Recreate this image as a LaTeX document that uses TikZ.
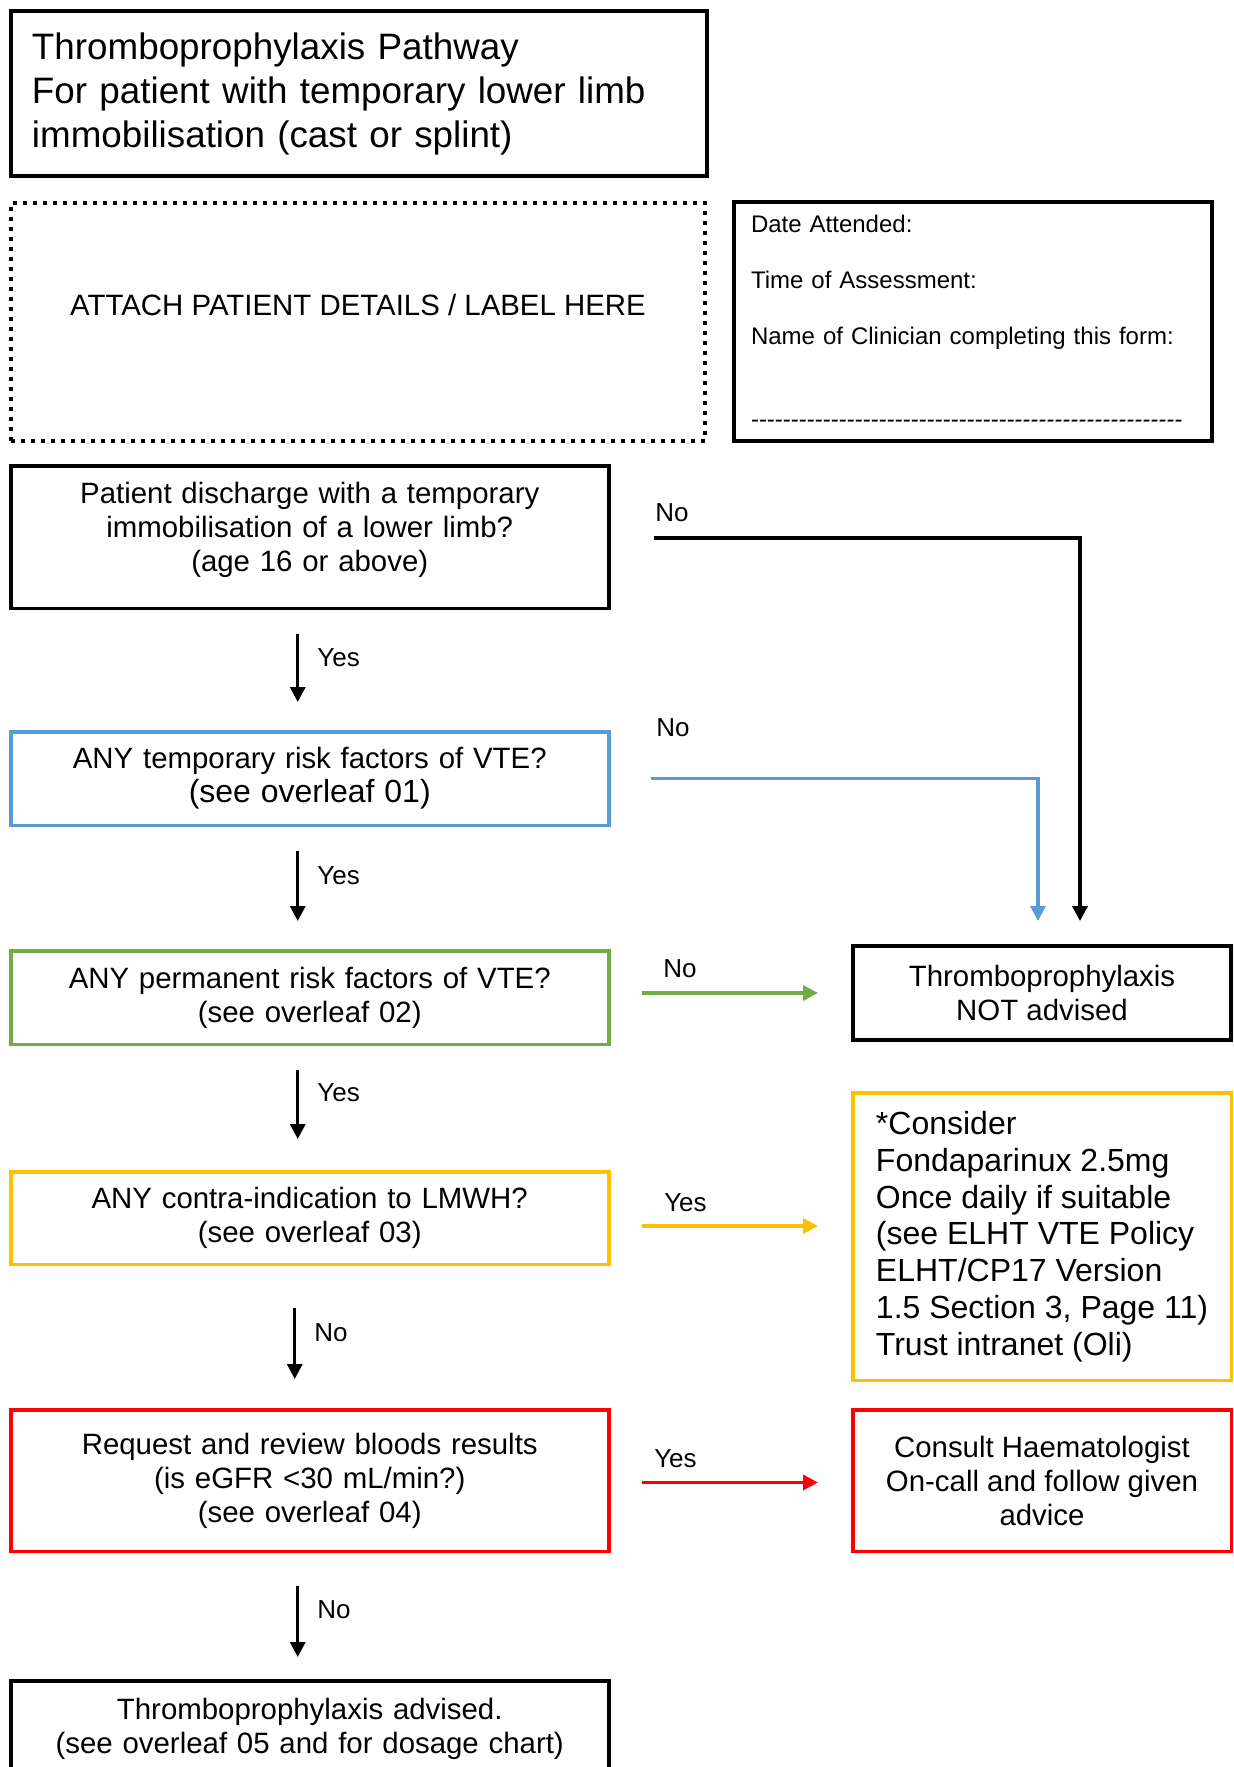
\documentclass[tikz,border=0pt]{standalone}
\usepackage{fontspec}
\setmainfont{Liberation Sans}
\usepackage{tikz}
\usetikzlibrary{arrows.meta, positioning, calc}
\usepackage{xcolor}

\definecolor{riskblue}{HTML}{5B9BD5}
\definecolor{riskgreen}{HTML}{70AD47}
\definecolor{riskyellow}{HTML}{FFC000}
\definecolor{riskred}{HTML}{FF0000}
\newcommand{\dashrow}{\foreach \k in {1,...,54}{-\kern0pt}}

\begin{document}
\begin{tikzpicture}[
  x=0.5pt, y=-0.5pt,
  >={Triangle[width=7.5pt,length=7.5pt]},
  font=\fontsize{14.7}{17}\selectfont,
  box/.style={draw, line width=1.75pt, inner sep=4pt, align=center},
  pathbox/.style={box, text width=285pt, minimum width=299pt},
  sidebox/.style={box, anchor=north west, minimum width=189.25pt},
  form/.style={draw, line width=2pt, anchor=north west},
  flow/.style={->, line width=1.6pt, shorten <=12pt, shorten >=14pt},
  sidearrow/.style={->, line width=1.75pt, shorten >=16.5pt},
  steplabel/.style={right=9pt, inner sep=0pt, font=\fontsize{13}{15}\selectfont},
  sidelabel/.style={anchor=south west, inner sep=0pt, text=black, font=\fontsize{13}{15}\selectfont}
]
\useasboundingbox (0,0) rectangle (1234,1767);
\fill[white] (0,0) rectangle (1234,1767);

% HEADER
\node[form, text width=327pt, align=left, inner xsep=10.5pt, minimum height=82.5pt,
  font=\fontsize{18.4}{22}\selectfont] (title) at (9,9)
  {Thromboprophylaxis Pathway\\For patient with temporary lower limb\\immobilisation (cast or splint)};
\node[form, dash pattern=on 2pt off 3pt, minimum width=347pt, minimum height=119pt,
  text depth=17pt] (attach) at (9,201) {ATTACH PATIENT DETAILS / LABEL HERE};
\node[form, text width=222pt, align=left, inner xsep=8.5pt, minimum height=119.5pt,
  font=\fontsize{12}{14}\selectfont] (details) at (732,200)
  {Date Attended:\\[14pt]Time of Assessment:\\[14pt]Name of Clinician completing this form:\\[27.5pt]\dashrow};

% PATHWAY
\node[pathbox, anchor=north west, minimum height=71.25pt, text depth=44pt] (discharge) at (9,464)
  {Patient discharge with a temporary\\immobilisation of a lower limb?\\(age 16 or above)};
\node[pathbox, draw=riskblue, below=60pt of discharge, minimum height=46.75pt] (temprisk)
  {ANY temporary risk factors of VTE?\\{\fontsize{16}{17}\selectfont (see overleaf 01)}};
\node[pathbox, draw=riskgreen, below=61pt of temprisk, minimum height=46.75pt] (permrisk)
  {ANY permanent risk factors of VTE?\\(see overleaf 02)};
\node[pathbox, draw=riskyellow, below=62pt of permrisk, minimum height=46.25pt] (contra)
  {ANY contra-indication to LMWH?\\(see overleaf 03)};
\node[pathbox, draw=riskred, below=71pt of contra, minimum height=70.75pt] (bloods)
  {Request and review bloods results\\(is eGFR <30 mL/min?)\\(see overleaf 04)};
\node[pathbox, line width=2pt, below=63pt of bloods, minimum height=47.75pt] (advised)
  {Thromboprophylaxis advised.\\(see overleaf 05 and for dosage chart)};

\draw[flow] ([xshift=-6pt]discharge.south) -- node[steplabel, pos=.4]{Yes} ([xshift=-6pt]temprisk.north);
\draw[flow] ([xshift=-6pt]temprisk.south) -- node[steplabel, pos=.4]{Yes} ([xshift=-6pt]permrisk.north);
\draw[flow, shorten >=15.5pt] ([xshift=-6pt]permrisk.south) -- node[steplabel, pos=.38]{Yes} ([xshift=-6pt]contra.north);
\draw[flow, shorten <=21pt, shorten >=14.5pt] ([xshift=-7.5pt]contra.south) -- node[steplabel, pos=.47]{No} ([xshift=-7.5pt]bloods.north);
\draw[flow, shorten <=16.5pt, shorten >=11pt] ([xshift=-6pt]bloods.south) -- node[steplabel, pos=.45]{No} ([xshift=-6pt]advised.north);

% OUTCOMES
\node[sidebox, line width=2pt, minimum width=189pt, minimum height=47pt] (notadv) at (851,944)
  {Thromboprophylaxis\\NOT advised};
\node[sidebox, draw=riskyellow, align=left, minimum height=143.75pt,
  font=\fontsize{16}{18.4}\selectfont] (fonda) at (851,1091)
  {*Consider\\Fondaparinux 2.5mg\\Once daily if suitable\\(see ELHT VTE Policy\\ELHT/CP17 Version\\1.5 Section 3, Page 11)\\Trust intranet (Oli)};
\node[sidebox, draw=riskred, minimum height=70.75pt] (haem) at (851,1408)
  {Consult Haematologist\\On-call and follow given\\advice};

\coordinate (noA) at ($(discharge.east)+(43,1)$);
\coordinate (noB) at ($(temprisk.east)+(40,0)$);
\coordinate (noC) at ($(permrisk.east |- notadv.west)+(31,0)$);
\coordinate (yesD) at ($(contra.east)+(31,8)$);
\coordinate (yesE) at ($(bloods.east)+(31,2)$);

\draw[sidearrow, shorten >=11.5pt] (noA) node[sidelabel, yshift=7.5pt]{No} -| ([xshift=19pt]notadv.north);
\draw[sidearrow, riskblue, shorten >=11.5pt] (noB) node[sidelabel, xshift=2pt, yshift=20pt]{No} -| ([xshift=-2pt]notadv.north);
\draw[sidearrow, riskgreen] (noC) node[sidelabel, xshift=10pt, yshift=7pt]{No} -- (notadv.west);
\draw[sidearrow, riskyellow] (yesD) node[sidelabel, xshift=10.5pt, yshift=6.5pt]{Yes} -- (yesD -| fonda.west);
\draw[sidearrow, riskred] (yesE) node[sidelabel, xshift=5.5pt, yshift=6.5pt]{Yes} -- (yesE -| haem.west);

\end{tikzpicture}
\end{document}
